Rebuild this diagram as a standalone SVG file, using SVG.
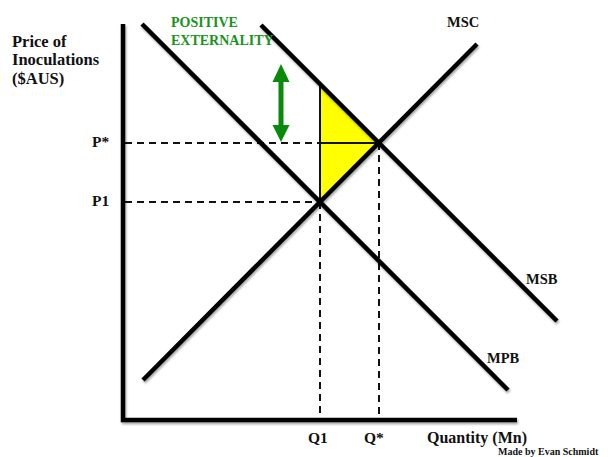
<svg xmlns="http://www.w3.org/2000/svg" width="608" height="457" viewBox="0 0 608 457">
<style>
  .lbl { font-family: "Liberation Serif", "DejaVu Serif", serif; font-weight: bold; fill: #111; }
  .green { fill: #1a921c; }
  .curve { stroke: #000; stroke-width: 4.5; fill: none; stroke-linecap: butt; }
  .axis { stroke: #000; stroke-width: 4.5; fill: none; }
  .dash { stroke: #111; stroke-width: 2; stroke-dasharray: 7 5; fill: none; }
  .thin { stroke: #111; stroke-width: 2; fill: none; }
</style>
<defs>
  <filter id="sh" x="-10%" y="-10%" width="120%" height="120%">
    <feDropShadow dx="1" dy="2" stdDeviation="1.3" flood-color="#000" flood-opacity="0.35"/>
  </filter>
</defs>
<rect width="608" height="457" fill="#fff"/>

<g id="surplus">
  <polygon points="320,84 379,143 320,202" fill="#ffff00"/>
</g>

<g id="connectors">
  <path class="dash" d="M125,143 H320"/>
  <path class="dash" d="M125,202 H320"/>
  <path class="dash" d="M320,202 V418"/>
  <path class="dash" d="M379,143 V418"/>
  <path class="thin" d="M320,143 H379"/>
  <path class="thin" d="M320,84 V202"/>
</g>

<g id="axes" filter="url(#sh)">
  <path class="axis" d="M123,24 V420 H517"/>
</g>

<g id="curves" filter="url(#sh)">
  <line id="MPB" class="curve" x1="142" y1="24" x2="508" y2="390"/>
  <line id="MSB" class="curve" x1="261" y1="25" x2="557" y2="321"/>
  <line id="MSC" class="curve" x1="143" y1="380" x2="477" y2="44"/>
</g>

<g id="arrow" fill="#0a8a0a">
  <rect x="278.5" y="80" width="5" height="48"/>
  <polygon points="281,64 289.5,82 272.5,82"/>
  <polygon points="281,142 289.5,125 272.5,125"/>
</g>

<g id="labels">
  <text class="lbl" x="12" y="47" font-size="16.5">Price of</text>
  <text class="lbl" x="12" y="65" font-size="16.5">Inoculations</text>
  <text class="lbl" x="12" y="84" font-size="16.5">($AUS)</text>
  <text class="lbl green" x="171" y="27" font-size="14">POSITIVE</text>
  <text class="lbl green" x="171" y="45" font-size="14">EXTERNALITY</text>
  <text class="lbl" x="447" y="27" font-size="14.5">MSC</text>
  <text class="lbl" x="526" y="284" font-size="14.5">MSB</text>
  <text class="lbl" x="487" y="363" font-size="14.5">MPB</text>
  <text class="lbl" x="92" y="147" font-size="15.5">P*</text>
  <text class="lbl" x="92" y="206" font-size="15.5">P1</text>
  <text class="lbl" x="308" y="443" font-size="15.5">Q1</text>
  <text class="lbl" x="364" y="443" font-size="15.5">Q*</text>
  <text class="lbl" x="427" y="443" font-size="16">Quantity (Mn)</text>
  <text class="lbl" x="498" y="455" font-size="10">Made by Evan Schmidt</text>
</g>
</svg>
